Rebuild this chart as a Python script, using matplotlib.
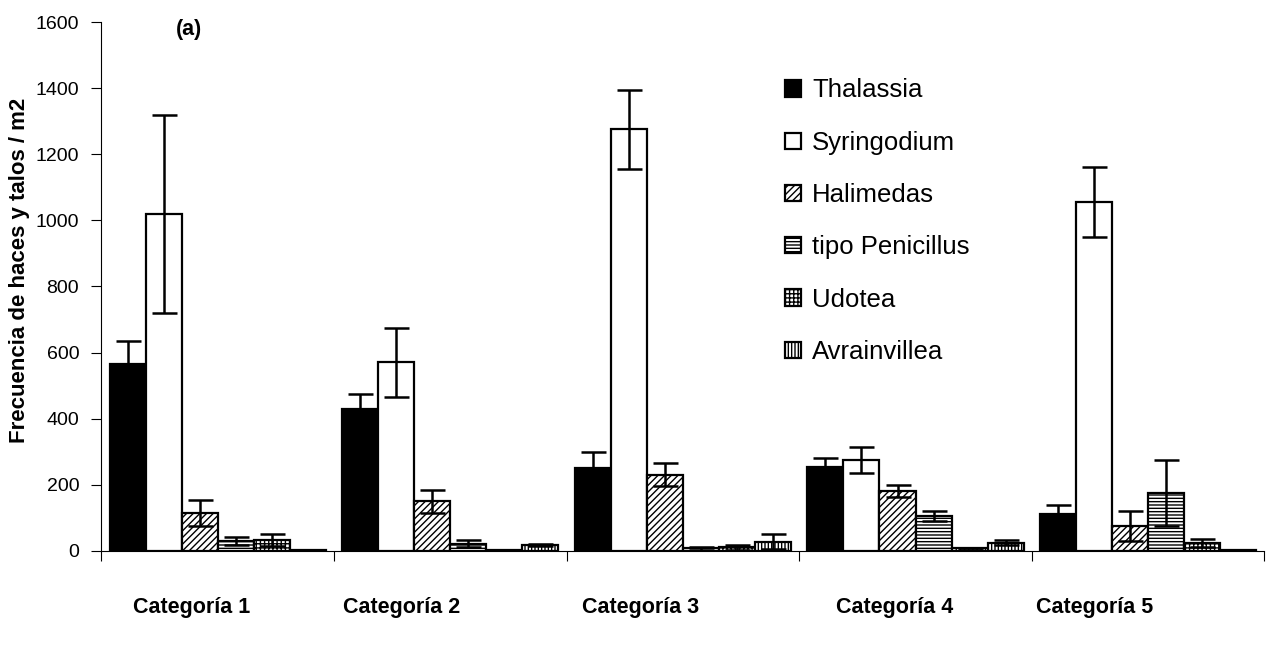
import matplotlib.pyplot as plt
import numpy as np

plt.rcParams['font.family'] = ['Liberation Sans', 'DejaVu Sans']

categorias = ["Categoría 1", "Categoría 2", "Categoría 3", "Categoría 4", "Categoría 5"]
especies = ["Thalassia", "Syringodium", "Halimedas", "tipo Penicillus", "Udotea", "Avrainvillea"]

# media por categoria (haces y talos / m2)
thalassia = [565, 430, 250, 255, 110]
syringodium = [1020, 570, 1275, 275, 1055]
halimedas = [115, 150, 230, 180, 75]
penicillus = [30, 22, 8, 105, 175]
udotea = [33, 3, 10, 8, 25]
avrainvillea = [3, 18, 28, 25, 3]

# desviacion (barras de error)
err_thalassia = [70, 45, 50, 25, 30]
err_syringodium = [300, 105, 120, 40, 105]
err_halimedas = [40, 35, 35, 18, 45]
err_penicillus = [12, 12, 5, 15, 100]
err_udotea = [18, 0, 8, 0, 12]
err_avrainvillea = [0, 4, 22, 8, 0]

medias = [thalassia, syringodium, halimedas, penicillus, udotea, avrainvillea]
errores = [err_thalassia, err_syringodium, err_halimedas, err_penicillus, err_udotea, err_avrainvillea]
colores = ["black", "white", "white", "white", "white", "white"]
tramas = [None, None, "/////", "-----", "++++", "|||||"]

fig = plt.figure(figsize=(12.67, 6.48), dpi=100)
ax = fig.add_axes([0.080, 0.150, 0.918, 0.816])

x = np.arange(len(categorias))
ancho = 0.155
for i in range(len(especies)):
    pos = x + (i - 2.5) * ancho
    ax.bar(pos, medias[i], width=ancho, color=colores[i], edgecolor="black",
           linewidth=1.6, hatch=tramas[i], label=especies[i], zorder=2)
    ax.errorbar(pos, medias[i], yerr=errores[i], fmt="none", ecolor="black",
                elinewidth=1.8, capsize=9, capthick=1.8, zorder=3)

ax.set_xlim(-0.5, 4.5)
ax.set_ylim(0, 1600)
ax.set_yticks(np.arange(0, 1601, 200))
ax.set_xticks(np.arange(-0.5, 4.6, 1))
ax.set_xticklabels([])
ax.tick_params(axis="y", labelsize=14, length=7, pad=9, direction="out")
ax.tick_params(axis="x", length=7, direction="out")
ax.spines["top"].set_visible(False)
ax.spines["right"].set_visible(False)
ax.set_ylabel("Frecuencia de haces y talos / m2", fontsize=16, fontweight="bold")
ax.yaxis.set_label_coords(-0.061, 0.53)

# etiquetas de categoria debajo del eje
pos_etiquetas = [-0.114, 0.79, 1.82, 2.91, 3.77]
for xe, nombre in zip(pos_etiquetas, categorias):
    ax.text(xe, -0.108, nombre, transform=ax.get_xaxis_transform(), ha="center",
            va="center", fontsize=15.5, fontweight="bold")

ax.text(0.064, 0.985, "(a)", transform=ax.transAxes, fontsize=15.5, fontweight="bold",
        ha="left", va="center")

ax.legend(loc="upper left", bbox_to_anchor=(0.568, 0.937), frameon=False, fontsize=18.5,
          handlelength=0.6, handleheight=0.6, handletextpad=0.45, labelspacing=1.1)

plt.savefig("out.png", dpi=100)
